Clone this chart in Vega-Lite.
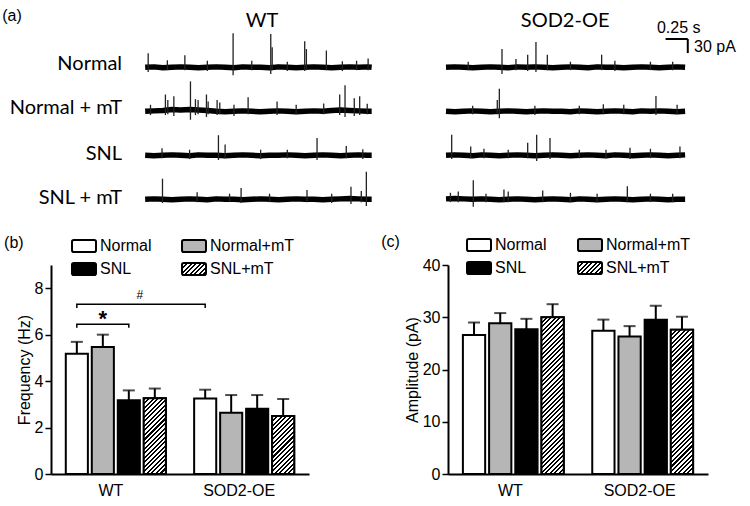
{
"$schema": "https://vega.github.io/schema/vega-lite/v6.json",
"background": "white",
"padding": {"left": 2, "top": 7, "right": 2, "bottom": 4},
"params": [{"name": "hs", "value": [
{"offset":0,"color":"black"},{"offset":0.0102,"color":"black"},{"offset":0.0102,"color":"white"},{"offset":0.0227,"color":"white"},
{"offset":0.0227,"color":"black"},{"offset":0.0330,"color":"black"},{"offset":0.0330,"color":"white"},{"offset":0.0455,"color":"white"},
{"offset":0.0455,"color":"black"},{"offset":0.0557,"color":"black"},{"offset":0.0557,"color":"white"},{"offset":0.0682,"color":"white"},
{"offset":0.0682,"color":"black"},{"offset":0.0784,"color":"black"},{"offset":0.0784,"color":"white"},{"offset":0.0909,"color":"white"},
{"offset":0.0909,"color":"black"},{"offset":0.1011,"color":"black"},{"offset":0.1011,"color":"white"},{"offset":0.1136,"color":"white"},
{"offset":0.1136,"color":"black"},{"offset":0.1239,"color":"black"},{"offset":0.1239,"color":"white"},{"offset":0.1364,"color":"white"},
{"offset":0.1364,"color":"black"},{"offset":0.1466,"color":"black"},{"offset":0.1466,"color":"white"},{"offset":0.1591,"color":"white"},
{"offset":0.1591,"color":"black"},{"offset":0.1693,"color":"black"},{"offset":0.1693,"color":"white"},{"offset":0.1818,"color":"white"},
{"offset":0.1818,"color":"black"},{"offset":0.1920,"color":"black"},{"offset":0.1920,"color":"white"},{"offset":0.2045,"color":"white"},
{"offset":0.2045,"color":"black"},{"offset":0.2148,"color":"black"},{"offset":0.2148,"color":"white"},{"offset":0.2273,"color":"white"},
{"offset":0.2273,"color":"black"},{"offset":0.2375,"color":"black"},{"offset":0.2375,"color":"white"},{"offset":0.2500,"color":"white"},
{"offset":0.2500,"color":"black"},{"offset":0.2602,"color":"black"},{"offset":0.2602,"color":"white"},{"offset":0.2727,"color":"white"},
{"offset":0.2727,"color":"black"},{"offset":0.2830,"color":"black"},{"offset":0.2830,"color":"white"},{"offset":0.2955,"color":"white"},
{"offset":0.2955,"color":"black"},{"offset":0.3057,"color":"black"},{"offset":0.3057,"color":"white"},{"offset":0.3182,"color":"white"},
{"offset":0.3182,"color":"black"},{"offset":0.3284,"color":"black"},{"offset":0.3284,"color":"white"},{"offset":0.3409,"color":"white"},
{"offset":0.3409,"color":"black"},{"offset":0.3511,"color":"black"},{"offset":0.3511,"color":"white"},{"offset":0.3636,"color":"white"},
{"offset":0.3636,"color":"black"},{"offset":0.3739,"color":"black"},{"offset":0.3739,"color":"white"},{"offset":0.3864,"color":"white"},
{"offset":0.3864,"color":"black"},{"offset":0.3966,"color":"black"},{"offset":0.3966,"color":"white"},{"offset":0.4091,"color":"white"},
{"offset":0.4091,"color":"black"},{"offset":0.4193,"color":"black"},{"offset":0.4193,"color":"white"},{"offset":0.4318,"color":"white"},
{"offset":0.4318,"color":"black"},{"offset":0.4420,"color":"black"},{"offset":0.4420,"color":"white"},{"offset":0.4545,"color":"white"},
{"offset":0.4545,"color":"black"},{"offset":0.4648,"color":"black"},{"offset":0.4648,"color":"white"},{"offset":0.4773,"color":"white"},
{"offset":0.4773,"color":"black"},{"offset":0.4875,"color":"black"},{"offset":0.4875,"color":"white"},{"offset":0.5000,"color":"white"},
{"offset":0.5000,"color":"black"},{"offset":0.5102,"color":"black"},{"offset":0.5102,"color":"white"},{"offset":0.5227,"color":"white"},
{"offset":0.5227,"color":"black"},{"offset":0.5330,"color":"black"},{"offset":0.5330,"color":"white"},{"offset":0.5455,"color":"white"},
{"offset":0.5455,"color":"black"},{"offset":0.5557,"color":"black"},{"offset":0.5557,"color":"white"},{"offset":0.5682,"color":"white"},
{"offset":0.5682,"color":"black"},{"offset":0.5784,"color":"black"},{"offset":0.5784,"color":"white"},{"offset":0.5909,"color":"white"},
{"offset":0.5909,"color":"black"},{"offset":0.6011,"color":"black"},{"offset":0.6011,"color":"white"},{"offset":0.6136,"color":"white"},
{"offset":0.6136,"color":"black"},{"offset":0.6239,"color":"black"},{"offset":0.6239,"color":"white"},{"offset":0.6364,"color":"white"},
{"offset":0.6364,"color":"black"},{"offset":0.6466,"color":"black"},{"offset":0.6466,"color":"white"},{"offset":0.6591,"color":"white"},
{"offset":0.6591,"color":"black"},{"offset":0.6693,"color":"black"},{"offset":0.6693,"color":"white"},{"offset":0.6818,"color":"white"},
{"offset":0.6818,"color":"black"},{"offset":0.6920,"color":"black"},{"offset":0.6920,"color":"white"},{"offset":0.7045,"color":"white"},
{"offset":0.7045,"color":"black"},{"offset":0.7148,"color":"black"},{"offset":0.7148,"color":"white"},{"offset":0.7273,"color":"white"},
{"offset":0.7273,"color":"black"},{"offset":0.7375,"color":"black"},{"offset":0.7375,"color":"white"},{"offset":0.7500,"color":"white"},
{"offset":0.7500,"color":"black"},{"offset":0.7602,"color":"black"},{"offset":0.7602,"color":"white"},{"offset":0.7727,"color":"white"},
{"offset":0.7727,"color":"black"},{"offset":0.7830,"color":"black"},{"offset":0.7830,"color":"white"},{"offset":0.7955,"color":"white"},
{"offset":0.7955,"color":"black"},{"offset":0.8057,"color":"black"},{"offset":0.8057,"color":"white"},{"offset":0.8182,"color":"white"},
{"offset":0.8182,"color":"black"},{"offset":0.8284,"color":"black"},{"offset":0.8284,"color":"white"},{"offset":0.8409,"color":"white"},
{"offset":0.8409,"color":"black"},{"offset":0.8511,"color":"black"},{"offset":0.8511,"color":"white"},{"offset":0.8636,"color":"white"},
{"offset":0.8636,"color":"black"},{"offset":0.8739,"color":"black"},{"offset":0.8739,"color":"white"},{"offset":0.8864,"color":"white"},
{"offset":0.8864,"color":"black"},{"offset":0.8966,"color":"black"},{"offset":0.8966,"color":"white"},{"offset":0.9091,"color":"white"},
{"offset":0.9091,"color":"black"},{"offset":0.9193,"color":"black"},{"offset":0.9193,"color":"white"},{"offset":0.9318,"color":"white"},
{"offset":0.9318,"color":"black"},{"offset":0.9420,"color":"black"},{"offset":0.9420,"color":"white"},{"offset":0.9545,"color":"white"},
{"offset":0.9545,"color":"black"},{"offset":0.9648,"color":"black"},{"offset":0.9648,"color":"white"},{"offset":0.9773,"color":"white"},
{"offset":0.9773,"color":"black"},{"offset":0.9875,"color":"black"},{"offset":0.9875,"color":"white"},{"offset":1,"color":"white"}
]}],
"datasets": {
"tr": [
{"g":"WT","c":"Normal","k":"b","t":0,"v":0},{"g":"WT","c":"Normal","k":"b","t":0.1,"v":1},{"g":"WT","c":"Normal","k":"b","t":0.2,"v":-1},{"g":"WT","c":"Normal","k":"b","t":0.3,"v":0},{"g":"WT","c":"Normal","k":"b","t":0.4,"v":1},{"g":"WT","c":"Normal","k":"b","t":0.5,"v":0},{"g":"WT","c":"Normal","k":"b","t":0.6,"v":-1},{"g":"WT","c":"Normal","k":"b","t":0.7,"v":0},{"g":"WT","c":"Normal","k":"b","t":0.8,"v":1},{"g":"WT","c":"Normal","k":"b","t":0.9,"v":0},{"g":"WT","c":"Normal","k":"b","t":1.0,"v":-1},{"g":"WT","c":"Normal","k":"b","t":1.1,"v":1},{"g":"WT","c":"Normal","k":"b","t":1.2,"v":0},{"g":"WT","c":"Normal","k":"b","t":1.3,"v":0},{"g":"WT","c":"Normal","k":"b","t":1.4,"v":-1},{"g":"WT","c":"Normal","k":"b","t":1.5,"v":1},{"g":"WT","c":"Normal","k":"b","t":1.6,"v":0},{"g":"WT","c":"Normal","k":"b","t":1.7,"v":-1},{"g":"WT","c":"Normal","k":"b","t":1.8,"v":0},{"g":"WT","c":"Normal","k":"b","t":1.9,"v":1},{"g":"WT","c":"Normal","k":"b","t":2.0,"v":0},{"g":"WT","c":"Normal","k":"b","t":2.1,"v":-1},{"g":"WT","c":"Normal","k":"b","t":2.2,"v":0},{"g":"WT","c":"Normal","k":"b","t":2.3,"v":1},{"g":"WT","c":"Normal","k":"b","t":2.4,"v":0},{"g":"WT","c":"Normal","k":"b","t":2.5,"v":1},{"g":"WT","c":"Normal","k":"b","t":2.55,"v":0},
{"g":"WT","c":"Normal + mT","k":"b","t":0,"v":0},{"g":"WT","c":"Normal + mT","k":"b","t":0.1,"v":1},{"g":"WT","c":"Normal + mT","k":"b","t":0.2,"v":2},{"g":"WT","c":"Normal + mT","k":"b","t":0.3,"v":4},{"g":"WT","c":"Normal + mT","k":"b","t":0.4,"v":3},{"g":"WT","c":"Normal + mT","k":"b","t":0.5,"v":4},{"g":"WT","c":"Normal + mT","k":"b","t":0.6,"v":3},{"g":"WT","c":"Normal + mT","k":"b","t":0.7,"v":2},{"g":"WT","c":"Normal + mT","k":"b","t":0.8,"v":0},{"g":"WT","c":"Normal + mT","k":"b","t":0.9,"v":-1},{"g":"WT","c":"Normal + mT","k":"b","t":1.0,"v":0},{"g":"WT","c":"Normal + mT","k":"b","t":1.1,"v":1},{"g":"WT","c":"Normal + mT","k":"b","t":1.2,"v":0},{"g":"WT","c":"Normal + mT","k":"b","t":1.3,"v":-1},{"g":"WT","c":"Normal + mT","k":"b","t":1.4,"v":0},{"g":"WT","c":"Normal + mT","k":"b","t":1.5,"v":1},{"g":"WT","c":"Normal + mT","k":"b","t":1.6,"v":0},{"g":"WT","c":"Normal + mT","k":"b","t":1.7,"v":-1},{"g":"WT","c":"Normal + mT","k":"b","t":1.8,"v":0},{"g":"WT","c":"Normal + mT","k":"b","t":1.9,"v":1},{"g":"WT","c":"Normal + mT","k":"b","t":2.0,"v":0},{"g":"WT","c":"Normal + mT","k":"b","t":2.1,"v":2},{"g":"WT","c":"Normal + mT","k":"b","t":2.2,"v":3},{"g":"WT","c":"Normal + mT","k":"b","t":2.3,"v":2},{"g":"WT","c":"Normal + mT","k":"b","t":2.4,"v":1},{"g":"WT","c":"Normal + mT","k":"b","t":2.5,"v":0},{"g":"WT","c":"Normal + mT","k":"b","t":2.55,"v":0},
{"g":"WT","c":"SNL","k":"b","t":0,"v":0},{"g":"WT","c":"SNL","k":"b","t":0.1,"v":-1},{"g":"WT","c":"SNL","k":"b","t":0.2,"v":0},{"g":"WT","c":"SNL","k":"b","t":0.3,"v":1},{"g":"WT","c":"SNL","k":"b","t":0.4,"v":0},{"g":"WT","c":"SNL","k":"b","t":0.5,"v":-1},{"g":"WT","c":"SNL","k":"b","t":0.6,"v":1},{"g":"WT","c":"SNL","k":"b","t":0.7,"v":0},{"g":"WT","c":"SNL","k":"b","t":0.8,"v":0},{"g":"WT","c":"SNL","k":"b","t":0.9,"v":-1},{"g":"WT","c":"SNL","k":"b","t":1.0,"v":0},{"g":"WT","c":"SNL","k":"b","t":1.1,"v":1},{"g":"WT","c":"SNL","k":"b","t":1.2,"v":0},{"g":"WT","c":"SNL","k":"b","t":1.3,"v":-1},{"g":"WT","c":"SNL","k":"b","t":1.4,"v":0},{"g":"WT","c":"SNL","k":"b","t":1.5,"v":0},{"g":"WT","c":"SNL","k":"b","t":1.6,"v":1},{"g":"WT","c":"SNL","k":"b","t":1.7,"v":0},{"g":"WT","c":"SNL","k":"b","t":1.8,"v":-1},{"g":"WT","c":"SNL","k":"b","t":1.9,"v":0},{"g":"WT","c":"SNL","k":"b","t":2.0,"v":1},{"g":"WT","c":"SNL","k":"b","t":2.1,"v":0},{"g":"WT","c":"SNL","k":"b","t":2.2,"v":-1},{"g":"WT","c":"SNL","k":"b","t":2.3,"v":0},{"g":"WT","c":"SNL","k":"b","t":2.4,"v":1},{"g":"WT","c":"SNL","k":"b","t":2.5,"v":0},{"g":"WT","c":"SNL","k":"b","t":2.55,"v":0},
{"g":"WT","c":"SNL + mT","k":"b","t":0,"v":0},{"g":"WT","c":"SNL + mT","k":"b","t":0.1,"v":1},{"g":"WT","c":"SNL + mT","k":"b","t":0.2,"v":0},{"g":"WT","c":"SNL + mT","k":"b","t":0.3,"v":-1},{"g":"WT","c":"SNL + mT","k":"b","t":0.4,"v":0},{"g":"WT","c":"SNL + mT","k":"b","t":0.5,"v":1},{"g":"WT","c":"SNL + mT","k":"b","t":0.6,"v":0},{"g":"WT","c":"SNL + mT","k":"b","t":0.7,"v":-1},{"g":"WT","c":"SNL + mT","k":"b","t":0.8,"v":1},{"g":"WT","c":"SNL + mT","k":"b","t":0.9,"v":0},{"g":"WT","c":"SNL + mT","k":"b","t":1.0,"v":0},{"g":"WT","c":"SNL + mT","k":"b","t":1.1,"v":-1},{"g":"WT","c":"SNL + mT","k":"b","t":1.2,"v":0},{"g":"WT","c":"SNL + mT","k":"b","t":1.3,"v":1},{"g":"WT","c":"SNL + mT","k":"b","t":1.4,"v":0},{"g":"WT","c":"SNL + mT","k":"b","t":1.5,"v":-1},{"g":"WT","c":"SNL + mT","k":"b","t":1.6,"v":0},{"g":"WT","c":"SNL + mT","k":"b","t":1.7,"v":1},{"g":"WT","c":"SNL + mT","k":"b","t":1.8,"v":0},{"g":"WT","c":"SNL + mT","k":"b","t":1.9,"v":0},{"g":"WT","c":"SNL + mT","k":"b","t":2.0,"v":-1},{"g":"WT","c":"SNL + mT","k":"b","t":2.1,"v":0},{"g":"WT","c":"SNL + mT","k":"b","t":2.2,"v":1},{"g":"WT","c":"SNL + mT","k":"b","t":2.3,"v":2},{"g":"WT","c":"SNL + mT","k":"b","t":2.4,"v":1},{"g":"WT","c":"SNL + mT","k":"b","t":2.5,"v":0},{"g":"WT","c":"SNL + mT","k":"b","t":2.55,"v":0},
{"g":"SOD2-OE","c":"Normal","k":"b","t":0,"v":0},{"g":"SOD2-OE","c":"Normal","k":"b","t":0.1,"v":1},{"g":"SOD2-OE","c":"Normal","k":"b","t":0.2,"v":0},{"g":"SOD2-OE","c":"Normal","k":"b","t":0.3,"v":-1},{"g":"SOD2-OE","c":"Normal","k":"b","t":0.4,"v":0},{"g":"SOD2-OE","c":"Normal","k":"b","t":0.5,"v":1},{"g":"SOD2-OE","c":"Normal","k":"b","t":0.6,"v":0},{"g":"SOD2-OE","c":"Normal","k":"b","t":0.7,"v":-1},{"g":"SOD2-OE","c":"Normal","k":"b","t":0.8,"v":1},{"g":"SOD2-OE","c":"Normal","k":"b","t":0.9,"v":0},{"g":"SOD2-OE","c":"Normal","k":"b","t":1.0,"v":1},{"g":"SOD2-OE","c":"Normal","k":"b","t":1.1,"v":0},{"g":"SOD2-OE","c":"Normal","k":"b","t":1.2,"v":-1},{"g":"SOD2-OE","c":"Normal","k":"b","t":1.3,"v":0},{"g":"SOD2-OE","c":"Normal","k":"b","t":1.4,"v":1},{"g":"SOD2-OE","c":"Normal","k":"b","t":1.5,"v":0},{"g":"SOD2-OE","c":"Normal","k":"b","t":1.6,"v":-1},{"g":"SOD2-OE","c":"Normal","k":"b","t":1.7,"v":1},{"g":"SOD2-OE","c":"Normal","k":"b","t":1.8,"v":0},{"g":"SOD2-OE","c":"Normal","k":"b","t":1.9,"v":0},{"g":"SOD2-OE","c":"Normal","k":"b","t":2.0,"v":-1},{"g":"SOD2-OE","c":"Normal","k":"b","t":2.1,"v":0},{"g":"SOD2-OE","c":"Normal","k":"b","t":2.2,"v":1},{"g":"SOD2-OE","c":"Normal","k":"b","t":2.3,"v":0},{"g":"SOD2-OE","c":"Normal","k":"b","t":2.4,"v":-1},{"g":"SOD2-OE","c":"Normal","k":"b","t":2.5,"v":0},{"g":"SOD2-OE","c":"Normal","k":"b","t":2.6,"v":1},{"g":"SOD2-OE","c":"Normal","k":"b","t":2.69,"v":0},
{"g":"SOD2-OE","c":"Normal + mT","k":"b","t":0,"v":0},{"g":"SOD2-OE","c":"Normal + mT","k":"b","t":0.1,"v":-1},{"g":"SOD2-OE","c":"Normal + mT","k":"b","t":0.2,"v":0},{"g":"SOD2-OE","c":"Normal + mT","k":"b","t":0.3,"v":1},{"g":"SOD2-OE","c":"Normal + mT","k":"b","t":0.4,"v":0},{"g":"SOD2-OE","c":"Normal + mT","k":"b","t":0.5,"v":-1},{"g":"SOD2-OE","c":"Normal + mT","k":"b","t":0.6,"v":0},{"g":"SOD2-OE","c":"Normal + mT","k":"b","t":0.7,"v":1},{"g":"SOD2-OE","c":"Normal + mT","k":"b","t":0.8,"v":0},{"g":"SOD2-OE","c":"Normal + mT","k":"b","t":0.9,"v":-1},{"g":"SOD2-OE","c":"Normal + mT","k":"b","t":1.0,"v":0},{"g":"SOD2-OE","c":"Normal + mT","k":"b","t":1.1,"v":1},{"g":"SOD2-OE","c":"Normal + mT","k":"b","t":1.2,"v":0},{"g":"SOD2-OE","c":"Normal + mT","k":"b","t":1.3,"v":0},{"g":"SOD2-OE","c":"Normal + mT","k":"b","t":1.4,"v":-1},{"g":"SOD2-OE","c":"Normal + mT","k":"b","t":1.5,"v":1},{"g":"SOD2-OE","c":"Normal + mT","k":"b","t":1.6,"v":0},{"g":"SOD2-OE","c":"Normal + mT","k":"b","t":1.7,"v":-1},{"g":"SOD2-OE","c":"Normal + mT","k":"b","t":1.8,"v":0},{"g":"SOD2-OE","c":"Normal + mT","k":"b","t":1.9,"v":1},{"g":"SOD2-OE","c":"Normal + mT","k":"b","t":2.0,"v":0},{"g":"SOD2-OE","c":"Normal + mT","k":"b","t":2.1,"v":-1},{"g":"SOD2-OE","c":"Normal + mT","k":"b","t":2.2,"v":1},{"g":"SOD2-OE","c":"Normal + mT","k":"b","t":2.3,"v":0},{"g":"SOD2-OE","c":"Normal + mT","k":"b","t":2.4,"v":1},{"g":"SOD2-OE","c":"Normal + mT","k":"b","t":2.5,"v":0},{"g":"SOD2-OE","c":"Normal + mT","k":"b","t":2.6,"v":-1},{"g":"SOD2-OE","c":"Normal + mT","k":"b","t":2.69,"v":0},
{"g":"SOD2-OE","c":"SNL","k":"b","t":0,"v":0},{"g":"SOD2-OE","c":"SNL","k":"b","t":0.1,"v":1},{"g":"SOD2-OE","c":"SNL","k":"b","t":0.2,"v":0},{"g":"SOD2-OE","c":"SNL","k":"b","t":0.3,"v":-1},{"g":"SOD2-OE","c":"SNL","k":"b","t":0.4,"v":1},{"g":"SOD2-OE","c":"SNL","k":"b","t":0.5,"v":0},{"g":"SOD2-OE","c":"SNL","k":"b","t":0.6,"v":-1},{"g":"SOD2-OE","c":"SNL","k":"b","t":0.7,"v":0},{"g":"SOD2-OE","c":"SNL","k":"b","t":0.8,"v":1},{"g":"SOD2-OE","c":"SNL","k":"b","t":0.9,"v":0},{"g":"SOD2-OE","c":"SNL","k":"b","t":1.0,"v":-1},{"g":"SOD2-OE","c":"SNL","k":"b","t":1.1,"v":0},{"g":"SOD2-OE","c":"SNL","k":"b","t":1.2,"v":1},{"g":"SOD2-OE","c":"SNL","k":"b","t":1.3,"v":0},{"g":"SOD2-OE","c":"SNL","k":"b","t":1.4,"v":-1},{"g":"SOD2-OE","c":"SNL","k":"b","t":1.5,"v":0},{"g":"SOD2-OE","c":"SNL","k":"b","t":1.6,"v":1},{"g":"SOD2-OE","c":"SNL","k":"b","t":1.7,"v":0},{"g":"SOD2-OE","c":"SNL","k":"b","t":1.8,"v":-1},{"g":"SOD2-OE","c":"SNL","k":"b","t":1.9,"v":1},{"g":"SOD2-OE","c":"SNL","k":"b","t":2.0,"v":0},{"g":"SOD2-OE","c":"SNL","k":"b","t":2.1,"v":-1},{"g":"SOD2-OE","c":"SNL","k":"b","t":2.2,"v":0},{"g":"SOD2-OE","c":"SNL","k":"b","t":2.3,"v":1},{"g":"SOD2-OE","c":"SNL","k":"b","t":2.4,"v":0},{"g":"SOD2-OE","c":"SNL","k":"b","t":2.5,"v":-1},{"g":"SOD2-OE","c":"SNL","k":"b","t":2.6,"v":0},{"g":"SOD2-OE","c":"SNL","k":"b","t":2.69,"v":1},
{"g":"SOD2-OE","c":"SNL + mT","k":"b","t":0,"v":1},{"g":"SOD2-OE","c":"SNL + mT","k":"b","t":0.1,"v":2},{"g":"SOD2-OE","c":"SNL + mT","k":"b","t":0.2,"v":1},{"g":"SOD2-OE","c":"SNL + mT","k":"b","t":0.3,"v":0},{"g":"SOD2-OE","c":"SNL + mT","k":"b","t":0.4,"v":1},{"g":"SOD2-OE","c":"SNL + mT","k":"b","t":0.5,"v":0},{"g":"SOD2-OE","c":"SNL + mT","k":"b","t":0.6,"v":-1},{"g":"SOD2-OE","c":"SNL + mT","k":"b","t":0.7,"v":0},{"g":"SOD2-OE","c":"SNL + mT","k":"b","t":0.8,"v":1},{"g":"SOD2-OE","c":"SNL + mT","k":"b","t":0.9,"v":0},{"g":"SOD2-OE","c":"SNL + mT","k":"b","t":1.0,"v":-1},{"g":"SOD2-OE","c":"SNL + mT","k":"b","t":1.1,"v":0},{"g":"SOD2-OE","c":"SNL + mT","k":"b","t":1.2,"v":1},{"g":"SOD2-OE","c":"SNL + mT","k":"b","t":1.3,"v":0},{"g":"SOD2-OE","c":"SNL + mT","k":"b","t":1.4,"v":-1},{"g":"SOD2-OE","c":"SNL + mT","k":"b","t":1.5,"v":1},{"g":"SOD2-OE","c":"SNL + mT","k":"b","t":1.6,"v":0},{"g":"SOD2-OE","c":"SNL + mT","k":"b","t":1.7,"v":-1},{"g":"SOD2-OE","c":"SNL + mT","k":"b","t":1.8,"v":0},{"g":"SOD2-OE","c":"SNL + mT","k":"b","t":1.9,"v":1},{"g":"SOD2-OE","c":"SNL + mT","k":"b","t":2.0,"v":0},{"g":"SOD2-OE","c":"SNL + mT","k":"b","t":2.1,"v":-1},{"g":"SOD2-OE","c":"SNL + mT","k":"b","t":2.2,"v":0},{"g":"SOD2-OE","c":"SNL + mT","k":"b","t":2.3,"v":1},{"g":"SOD2-OE","c":"SNL + mT","k":"b","t":2.4,"v":0},{"g":"SOD2-OE","c":"SNL + mT","k":"b","t":2.5,"v":-1},{"g":"SOD2-OE","c":"SNL + mT","k":"b","t":2.6,"v":0},{"g":"SOD2-OE","c":"SNL + mT","k":"b","t":2.69,"v":0},
{"g":"WT","c":"Normal","k":"s","t":0.034,"lo":-10,"hi":30},{"g":"WT","c":"Normal","k":"s","t":0.25,"lo":-6,"hi":15},{"g":"WT","c":"Normal","k":"s","t":0.447,"lo":-6,"hi":26},{"g":"WT","c":"Normal","k":"s","t":0.7,"lo":-8,"hi":14},{"g":"WT","c":"Normal","k":"s","t":0.99,"lo":-17,"hi":73},{"g":"WT","c":"Normal","k":"s","t":1.2,"lo":-6,"hi":14},{"g":"WT","c":"Normal","k":"s","t":1.414,"lo":-14,"hi":71},{"g":"WT","c":"Normal","k":"s","t":1.43,"lo":-6,"hi":43},{"g":"WT","c":"Normal","k":"s","t":1.6,"lo":-8,"hi":12},{"g":"WT","c":"Normal","k":"s","t":1.796,"lo":-8,"hi":56},{"g":"WT","c":"Normal","k":"s","t":1.815,"lo":-6,"hi":39},{"g":"WT","c":"Normal","k":"s","t":2.04,"lo":-6,"hi":36},{"g":"WT","c":"Normal","k":"s","t":2.22,"lo":-8,"hi":13},{"g":"WT","c":"Normal","k":"s","t":2.38,"lo":-6,"hi":14},{"g":"WT","c":"Normal","k":"s","t":2.51,"lo":-6,"hi":19},
{"g":"WT","c":"Normal + mT","k":"s","t":0.06,"lo":-8,"hi":14},{"g":"WT","c":"Normal + mT","k":"s","t":0.228,"lo":-8,"hi":36},{"g":"WT","c":"Normal + mT","k":"s","t":0.255,"lo":-6,"hi":24},{"g":"WT","c":"Normal + mT","k":"s","t":0.323,"lo":-10,"hi":32},{"g":"WT","c":"Normal + mT","k":"s","t":0.51,"lo":-18,"hi":64},{"g":"WT","c":"Normal + mT","k":"s","t":0.566,"lo":-8,"hi":26},{"g":"WT","c":"Normal + mT","k":"s","t":0.596,"lo":-6,"hi":24},{"g":"WT","c":"Normal + mT","k":"s","t":0.69,"lo":-12,"hi":36},{"g":"WT","c":"Normal + mT","k":"s","t":0.709,"lo":-6,"hi":21},{"g":"WT","c":"Normal + mT","k":"s","t":0.81,"lo":-8,"hi":24},{"g":"WT","c":"Normal + mT","k":"s","t":0.84,"lo":-6,"hi":19},{"g":"WT","c":"Normal + mT","k":"s","t":1.0,"lo":-10,"hi":14},{"g":"WT","c":"Normal + mT","k":"s","t":1.159,"lo":-6,"hi":30},{"g":"WT","c":"Normal + mT","k":"s","t":1.485,"lo":-8,"hi":21},{"g":"WT","c":"Normal + mT","k":"s","t":1.7,"lo":-6,"hi":14},{"g":"WT","c":"Normal + mT","k":"s","t":2.01,"lo":-6,"hi":17},{"g":"WT","c":"Normal + mT","k":"s","t":2.19,"lo":-8,"hi":36},{"g":"WT","c":"Normal + mT","k":"s","t":2.25,"lo":-12,"hi":56},{"g":"WT","c":"Normal + mT","k":"s","t":2.354,"lo":-10,"hi":28},{"g":"WT","c":"Normal + mT","k":"s","t":2.415,"lo":-8,"hi":32},{"g":"WT","c":"Normal + mT","k":"s","t":2.5,"lo":-6,"hi":16},
{"g":"WT","c":"SNL","k":"s","t":0.19,"lo":-6,"hi":15},{"g":"WT","c":"SNL","k":"s","t":0.5,"lo":-8,"hi":12},{"g":"WT","c":"SNL","k":"s","t":0.825,"lo":-10,"hi":43},{"g":"WT","c":"SNL","k":"s","t":0.9,"lo":-6,"hi":23},{"g":"WT","c":"SNL","k":"s","t":1.3,"lo":-8,"hi":12},{"g":"WT","c":"SNL","k":"s","t":1.6,"lo":-6,"hi":12},{"g":"WT","c":"SNL","k":"s","t":1.935,"lo":-10,"hi":37},{"g":"WT","c":"SNL","k":"s","t":2.264,"lo":-6,"hi":20},{"g":"WT","c":"SNL","k":"s","t":2.45,"lo":-8,"hi":13},
{"g":"WT","c":"SNL + mT","k":"s","t":0.195,"lo":-8,"hi":44},{"g":"WT","c":"SNL + mT","k":"s","t":0.585,"lo":-6,"hi":15},{"g":"WT","c":"SNL + mT","k":"s","t":0.95,"lo":-6,"hi":12},{"g":"WT","c":"SNL + mT","k":"s","t":1.08,"lo":-8,"hi":24},{"g":"WT","c":"SNL + mT","k":"s","t":1.4,"lo":-6,"hi":12},{"g":"WT","c":"SNL + mT","k":"s","t":1.822,"lo":-6,"hi":20},{"g":"WT","c":"SNL + mT","k":"s","t":2.1,"lo":-8,"hi":12},{"g":"WT","c":"SNL + mT","k":"s","t":2.317,"lo":-10,"hi":27},{"g":"WT","c":"SNL + mT","k":"s","t":2.433,"lo":-6,"hi":18},{"g":"WT","c":"SNL + mT","k":"s","t":2.49,"lo":-14,"hi":59},
{"g":"SOD2-OE","c":"Normal","k":"s","t":0.25,"lo":-6,"hi":12},{"g":"SOD2-OE","c":"Normal","k":"s","t":0.63,"lo":-14,"hi":39},{"g":"SOD2-OE","c":"Normal","k":"s","t":0.787,"lo":-6,"hi":18},{"g":"SOD2-OE","c":"Normal","k":"s","t":0.919,"lo":-8,"hi":27},{"g":"SOD2-OE","c":"Normal","k":"s","t":1.012,"lo":-10,"hi":54},{"g":"SOD2-OE","c":"Normal","k":"s","t":1.14,"lo":-6,"hi":27},{"g":"SOD2-OE","c":"Normal","k":"s","t":1.4,"lo":-6,"hi":12},{"g":"SOD2-OE","c":"Normal","k":"s","t":1.751,"lo":-6,"hi":27},{"g":"SOD2-OE","c":"Normal","k":"s","t":1.9,"lo":-8,"hi":14},{"g":"SOD2-OE","c":"Normal","k":"s","t":2.3,"lo":-6,"hi":12},{"g":"SOD2-OE","c":"Normal","k":"s","t":2.55,"lo":-6,"hi":12},
{"g":"SOD2-OE","c":"Normal + mT","k":"s","t":0.3,"lo":-6,"hi":12},{"g":"SOD2-OE","c":"Normal + mT","k":"s","t":0.577,"lo":-6,"hi":24},{"g":"SOD2-OE","c":"Normal + mT","k":"s","t":0.6,"lo":-15,"hi":48},{"g":"SOD2-OE","c":"Normal + mT","k":"s","t":1.0,"lo":-8,"hi":12},{"g":"SOD2-OE","c":"Normal + mT","k":"s","t":1.5,"lo":-6,"hi":12},{"g":"SOD2-OE","c":"Normal + mT","k":"s","t":1.77,"lo":-6,"hi":15},{"g":"SOD2-OE","c":"Normal + mT","k":"s","t":2.0,"lo":-6,"hi":14},{"g":"SOD2-OE","c":"Normal + mT","k":"s","t":2.362,"lo":-8,"hi":33},{"g":"SOD2-OE","c":"Normal + mT","k":"s","t":2.6,"lo":-6,"hi":14},
{"g":"SOD2-OE","c":"SNL","k":"s","t":0.064,"lo":-8,"hi":44},{"g":"SOD2-OE","c":"SNL","k":"s","t":0.278,"lo":-6,"hi":19},{"g":"SOD2-OE","c":"SNL","k":"s","t":0.427,"lo":-6,"hi":14},{"g":"SOD2-OE","c":"SNL","k":"s","t":0.7,"lo":-6,"hi":12},{"g":"SOD2-OE","c":"SNL","k":"s","t":0.919,"lo":-6,"hi":27},{"g":"SOD2-OE","c":"SNL","k":"s","t":1.02,"lo":-12,"hi":44},{"g":"SOD2-OE","c":"SNL","k":"s","t":1.17,"lo":-8,"hi":37},{"g":"SOD2-OE","c":"SNL","k":"s","t":1.5,"lo":-6,"hi":12},{"g":"SOD2-OE","c":"SNL","k":"s","t":1.8,"lo":-6,"hi":12},{"g":"SOD2-OE","c":"SNL","k":"s","t":2.07,"lo":-8,"hi":16},{"g":"SOD2-OE","c":"SNL","k":"s","t":2.3,"lo":-6,"hi":14},{"g":"SOD2-OE","c":"SNL","k":"s","t":2.632,"lo":-6,"hi":19},
{"g":"SOD2-OE","c":"SNL + mT","k":"s","t":0.05,"lo":-6,"hi":14},{"g":"SOD2-OE","c":"SNL + mT","k":"s","t":0.138,"lo":-6,"hi":17},{"g":"SOD2-OE","c":"SNL + mT","k":"s","t":0.307,"lo":-16,"hi":41},{"g":"SOD2-OE","c":"SNL + mT","k":"s","t":0.45,"lo":-6,"hi":12},{"g":"SOD2-OE","c":"SNL + mT","k":"s","t":0.652,"lo":-6,"hi":21},{"g":"SOD2-OE","c":"SNL + mT","k":"s","t":0.7,"lo":-6,"hi":17},{"g":"SOD2-OE","c":"SNL + mT","k":"s","t":1.088,"lo":-6,"hi":19},{"g":"SOD2-OE","c":"SNL + mT","k":"s","t":1.4,"lo":-6,"hi":14},{"g":"SOD2-OE","c":"SNL + mT","k":"s","t":1.7,"lo":-6,"hi":12},{"g":"SOD2-OE","c":"SNL + mT","k":"s","t":2.04,"lo":-6,"hi":28},{"g":"SOD2-OE","c":"SNL + mT","k":"s","t":2.3,"lo":-6,"hi":12},{"g":"SOD2-OE","c":"SNL + mT","k":"s","t":2.55,"lo":-6,"hi":12},
{"g":"SOD2-OE","c":"Normal","k":"sb","t":2.47,"t2":2.72,"lo":60.5,"hi":60.5},{"g":"SOD2-OE","c":"Normal","k":"sb","t":2.72,"t2":2.72,"lo":30.5,"hi":60.5},
{"g":"SOD2-OE","c":"Normal","k":"st","t":2.373,"v":84,"label":"0.25 s"},{"g":"SOD2-OE","c":"Normal","k":"st","t":2.79,"v":43.5,"label":"30 pA"},
{"g":"WT","c":"Normal","k":"lab","t":-0.26,"v":7,"label":"Normal"},{"g":"WT","c":"Normal + mT","k":"lab","t":-0.26,"v":7,"label":"Normal + mT"},{"g":"WT","c":"SNL","k":"lab","t":-0.26,"v":2,"label":"SNL"},{"g":"WT","c":"SNL + mT","k":"lab","t":-0.26,"v":3,"label":"SNL + mT"},
{"g":"WT","c":"Normal","k":"hd","t":1.316,"v":99,"label":"WT"},{"g":"SOD2-OE","c":"Normal","k":"hd","t":1.34,"v":99,"label":"SOD2-OE"},
{"g":"WT","c":"Normal","k":"pl","t":-1.609,"v":110,"label":"(a)"}
],
"fq": [
{"g":"WT","c":"Normal","v":5.18,"e":5.69},{"g":"WT","c":"Normal+mT","v":5.47,"e":6.0},{"g":"WT","c":"SNL","v":3.18,"e":3.6},{"g":"WT","c":"SNL+mT","v":3.26,"e":3.68},
{"g":"SOD2-OE","c":"Normal","v":3.25,"e":3.63},{"g":"SOD2-OE","c":"Normal+mT","v":2.64,"e":3.4},{"g":"SOD2-OE","c":"SNL","v":2.81,"e":3.4},{"g":"SOD2-OE","c":"SNL+mT","v":2.5,"e":3.23}
],
"am": [
{"g":"WT","c":"Normal","v":26.6,"e":29.0},{"g":"WT","c":"Normal+mT","v":28.85,"e":30.8},{"g":"WT","c":"SNL","v":27.7,"e":29.7},{"g":"WT","c":"SNL+mT","v":30.0,"e":32.5},
{"g":"SOD2-OE","c":"Normal","v":27.4,"e":29.55},{"g":"SOD2-OE","c":"Normal+mT","v":26.3,"e":28.3},{"g":"SOD2-OE","c":"SNL","v":29.5,"e":32.2},{"g":"SOD2-OE","c":"SNL+mT","v":27.6,"e":30.1}
],
"bk": [
{"id":"h","g":"WT","c":"Normal","y":7.15,"o":1},{"id":"h","g":"WT","c":"Normal","y":7.31,"o":2},{"id":"h","g":"SOD2-OE","c":"Normal","y":7.31,"o":3},{"id":"h","g":"SOD2-OE","c":"Normal","y":7.15,"o":4},
{"id":"s","g":"WT","c":"Normal","y":6.3,"o":1},{"id":"s","g":"WT","c":"Normal","y":6.45,"o":2},{"id":"s","g":"WT","c":"SNL","y":6.45,"o":3},{"id":"s","g":"WT","c":"SNL","y":6.3,"o":4}
],
"sg": [
{"g":"WT","c":"Normal+mT","y":6.36,"s":"*"},{"g":"WT","c":"SNL","y":7.52,"s":"#"}
]
},
"concat": [
{
"hconcat": [
{
"data": {"name": "tr"},
"transform": [{"filter": "datum.g == 'WT'"}],
"facet": {"row": {"field": "c", "type": "nominal", "sort": ["Normal", "Normal + mT", "SNL", "SNL + mT"], "header": {"title": null, "labels": false}}},
"bounds": "flush",
"spacing": 0,
"spec": {
"width": 334, "height": 44,
"layer": [
{"transform": [{"filter": "datum.k == 'b'"}], "mark": {"type": "line", "color": "black", "strokeWidth": 5.5, "strokeJoin": "round"},
 "encoding": {"x": {"field": "t", "type": "quantitative", "scale": {"domain": [-1.06, 2.7], "nice": false, "zero": false}, "axis": null}, "y": {"field": "v", "type": "quantitative", "scale": {"domain": [-42, 52], "nice": false, "zero": false}, "axis": null}}},
{"transform": [{"filter": "datum.k == 's'"}], "mark": {"type": "rule", "color": "#222", "strokeWidth": 1.3},
 "encoding": {"x": {"field": "t", "type": "quantitative"}, "y": {"field": "lo", "type": "quantitative"}, "y2": {"field": "hi"}}},
{"transform": [{"filter": "datum.k == 'pl'"}], "mark": {"type": "text", "align": "left", "baseline": "middle", "font": "Liberation Sans", "fontSize": 16, "color": "black"},
 "encoding": {"x": {"field": "t", "type": "quantitative"}, "y": {"field": "v", "type": "quantitative"}, "text": {"field": "label"}}},
{"transform": [{"filter": "datum.k == 'lab'"}], "mark": {"type": "text", "align": "right", "baseline": "middle", "font": "Lato", "fontSize": 20, "color": "black"},
 "encoding": {"x": {"field": "t", "type": "quantitative"}, "y": {"field": "v", "type": "quantitative"}, "text": {"field": "label"}}},
{"transform": [{"filter": "datum.k == 'hd'"}], "mark": {"type": "text", "align": "center", "baseline": "middle", "font": "Lato", "fontSize": 20, "color": "black"},
 "encoding": {"x": {"field": "t", "type": "quantitative"}, "y": {"field": "v", "type": "quantitative"}, "text": {"field": "label"}}}
]
}
},
{
"data": {"name": "tr"},
"transform": [{"filter": "datum.g == 'SOD2-OE'"}],
"facet": {"row": {"field": "c", "type": "nominal", "sort": ["Normal", "Normal + mT", "SNL", "SNL + mT"], "header": {"title": null, "labels": false}}},
"bounds": "flush",
"spacing": 0,
"spec": {
"width": 240, "height": 44,
"layer": [
{"transform": [{"filter": "datum.k == 'b'"}], "mark": {"type": "line", "color": "black", "strokeWidth": 5.5, "strokeJoin": "round"},
 "encoding": {"x": {"field": "t", "type": "quantitative", "scale": {"domain": [0, 2.7], "nice": false, "zero": false}, "axis": null}, "y": {"field": "v", "type": "quantitative", "scale": {"domain": [-42, 52], "nice": false, "zero": false}, "axis": null}}},
{"transform": [{"filter": "datum.k == 's'"}], "mark": {"type": "rule", "color": "#222", "strokeWidth": 1.3},
 "encoding": {"x": {"field": "t", "type": "quantitative"}, "y": {"field": "lo", "type": "quantitative"}, "y2": {"field": "hi"}}},
{"transform": [{"filter": "datum.k == 'sb'"}], "mark": {"type": "rule", "color": "black", "strokeWidth": 2},
 "encoding": {"x": {"field": "t", "type": "quantitative"}, "x2": {"field": "t2"}, "y": {"field": "lo", "type": "quantitative"}, "y2": {"field": "hi"}}},
{"transform": [{"filter": "datum.k == 'st'"}], "mark": {"type": "text", "align": "left", "baseline": "middle", "font": "Liberation Sans", "fontSize": 16, "color": "black"},
 "encoding": {"x": {"field": "t", "type": "quantitative"}, "y": {"field": "v", "type": "quantitative"}, "text": {"field": "label"}}},
{"transform": [{"filter": "datum.k == 'hd'"}], "mark": {"type": "text", "align": "center", "baseline": "middle", "font": "Lato", "fontSize": 20, "color": "black"},
 "encoding": {"x": {"field": "t", "type": "quantitative"}, "y": {"field": "v", "type": "quantitative"}, "text": {"field": "label"}}}
]
}
}
],
"spacing": 58,
"resolve": {"scale": {"x": "independent", "y": "independent"}}
},
{
"hconcat": [
{
"width": 258, "height": 209,
"title": {"text": "(b)", "anchor": "start", "dx": -12, "offset": -18, "font": "Liberation Sans", "fontSize": 16, "fontWeight": "normal", "color": "black"},
"layer": [
{"data": {"name": "fq"}, "mark": {"type": "rule", "color": "black", "strokeWidth": 2},
 "encoding": {
  "x": {"field": "g", "type": "nominal", "sort": ["WT", "SOD2-OE"], "title": null, "scale": {"paddingInner": 0.19, "paddingOuter": 0.1}, "axis": {"labelAngle": 0, "ticks": false, "labelPadding": 8, "labelOffset": -5}},
  "xOffset": {"field": "c", "type": "nominal", "scale": {"domain": ["Normal", "Normal+mT", "SNL", "SNL+mT"], "paddingInner": 0.15, "paddingOuter": 0.075}},
  "y": {"field": "v", "type": "quantitative", "title": "Frequency (Hz)", "scale": {"domain": [0, 9], "nice": false}, "axis": {"values": [0, 2, 4, 6, 8]}},
  "y2": {"field": "e"}}},
{"data": {"name": "fq"}, "mark": {"type": "tick", "color": "black", "size": 12, "thickness": 2},
 "encoding": {"x": {"field": "g", "type": "nominal", "sort": ["WT", "SOD2-OE"], "title": null}, "xOffset": {"field": "c", "type": "nominal"}, "y": {"field": "e", "type": "quantitative", "title": "Frequency (Hz)"}}},
{"data": {"name": "fq"}, "mark": {"type": "bar", "stroke": "black", "strokeWidth": 2},
 "encoding": {"x": {"field": "g", "type": "nominal", "sort": ["WT", "SOD2-OE"], "title": null}, "xOffset": {"field": "c", "type": "nominal"}, "y": {"field": "v", "type": "quantitative", "title": "Frequency (Hz)"},
  "fill": {"field": "c", "type": "nominal", "scale": {"domain": ["Normal", "SNL", "Normal+mT", "SNL+mT"], "range": ["white", "black", "#b6b6b6", {"expr": "{gradient:'linear',x1:0,y1:0,x2:6.667,y2:3.333,stops:hs}"}]},
   "legend": {"title": null, "orient": "none", "legendX": 20, "legendY": -32, "columns": 2, "columnPadding": 26, "rowPadding": -9, "padding": 0, "symbolType": "M-0.85,-0.5H0.85Q1,-0.5 1,-0.35V0.35Q1,0.5 0.85,0.5H-0.85Q-1,0.5 -1,0.35V-0.35Q-1,-0.5 -0.85,-0.5Z", "symbolSize": 576, "symbolStrokeColor": "black", "symbolStrokeWidth": 2, "symbolOpacity": 1, "labelFont": "Liberation Sans", "labelFontSize": 16, "labelColor": "black", "labelOffset": 3}}}},
{"data": {"name": "fq"}, "transform": [{"filter": "datum.g == 'WT' && datum.c == 'SNL+mT'"}], "mark": {"type": "bar", "stroke": "black", "strokeWidth": 2, "fill": {"expr": "{gradient:'linear',x1:0,y1:0,x2:0.711,y2:2.435,stops:hs}"}},
 "encoding": {"x": {"field": "g", "type": "nominal", "sort": ["WT", "SOD2-OE"], "title": null}, "xOffset": {"field": "c", "type": "nominal"}, "y": {"field": "v", "type": "quantitative", "title": "Frequency (Hz)"}}},
{"data": {"name": "fq"}, "transform": [{"filter": "datum.g == 'SOD2-OE' && datum.c == 'SNL+mT'"}], "mark": {"type": "bar", "stroke": "black", "strokeWidth": 2, "fill": {"expr": "{gradient:'linear',x1:0,y1:0,x2:1.144,y2:3.008,stops:hs}"}},
 "encoding": {"x": {"field": "g", "type": "nominal", "sort": ["WT", "SOD2-OE"], "title": null}, "xOffset": {"field": "c", "type": "nominal"}, "y": {"field": "v", "type": "quantitative", "title": "Frequency (Hz)"}}},
{"data": {"name": "bk"}, "mark": {"type": "line", "color": "black", "strokeWidth": 1.5},
 "encoding": {"x": {"field": "g", "type": "nominal", "sort": ["WT", "SOD2-OE"], "title": null}, "xOffset": {"field": "c", "type": "nominal"}, "y": {"field": "y", "type": "quantitative", "title": "Frequency (Hz)"}, "detail": {"field": "id"}, "order": {"field": "o", "type": "quantitative"}}},
{"data": {"name": "sg"}, "transform": [{"filter": "datum.s == '*'"}], "mark": {"type": "text", "font": "Liberation Sans", "fontSize": 22, "fontWeight": "bold", "baseline": "alphabetic", "color": "black"},
 "encoding": {"x": {"field": "g", "type": "nominal", "sort": ["WT", "SOD2-OE"], "title": null}, "xOffset": {"field": "c", "type": "nominal"}, "y": {"field": "y", "type": "quantitative", "title": "Frequency (Hz)"}, "text": {"field": "s"}}},
{"data": {"name": "sg"}, "transform": [{"filter": "datum.s == '#'"}], "mark": {"type": "text", "font": "Liberation Sans", "fontSize": 12, "baseline": "alphabetic", "dx": 11, "color": "black"},
 "encoding": {"x": {"field": "g", "type": "nominal", "sort": ["WT", "SOD2-OE"], "title": null}, "xOffset": {"field": "c", "type": "nominal"}, "y": {"field": "y", "type": "quantitative", "title": "Frequency (Hz)"}, "text": {"field": "s"}}}
]
},
{
"width": 260, "height": 209,
"title": {"text": "(c)", "anchor": "start", "dx": -23, "offset": -18, "font": "Liberation Sans", "fontSize": 16, "fontWeight": "normal", "color": "black"},
"layer": [
{"data": {"name": "am"}, "mark": {"type": "rule", "color": "black", "strokeWidth": 2},
 "encoding": {
  "x": {"field": "g", "type": "nominal", "sort": ["WT", "SOD2-OE"], "title": null, "scale": {"paddingInner": 0.19, "paddingOuter": 0.1}, "axis": {"labelAngle": 0, "ticks": false, "labelPadding": 8, "labelOffset": -3}},
  "xOffset": {"field": "c", "type": "nominal", "scale": {"domain": ["Normal", "Normal+mT", "SNL", "SNL+mT"], "paddingInner": 0.15, "paddingOuter": 0.075}},
  "y": {"field": "v", "type": "quantitative", "title": "Amplitude (pA)", "scale": {"domain": [0, 40], "nice": false}, "axis": {"values": [0, 10, 20, 30, 40]}},
  "y2": {"field": "e"}}},
{"data": {"name": "am"}, "mark": {"type": "tick", "color": "black", "size": 12, "thickness": 2},
 "encoding": {"x": {"field": "g", "type": "nominal", "sort": ["WT", "SOD2-OE"], "title": null}, "xOffset": {"field": "c", "type": "nominal"}, "y": {"field": "e", "type": "quantitative", "title": "Amplitude (pA)"}}},
{"data": {"name": "am"}, "mark": {"type": "bar", "stroke": "black", "strokeWidth": 2},
 "encoding": {"x": {"field": "g", "type": "nominal", "sort": ["WT", "SOD2-OE"], "title": null}, "xOffset": {"field": "c", "type": "nominal"}, "y": {"field": "v", "type": "quantitative", "title": "Amplitude (pA)"},
  "fill": {"field": "c", "type": "nominal", "scale": {"domain": ["Normal", "SNL", "Normal+mT", "SNL+mT"], "range": ["white", "black", "#b6b6b6", {"expr": "{gradient:'linear',x1:0,y1:0,x2:6.667,y2:3.333,stops:hs}"}]},
   "legend": {"title": null, "orient": "none", "legendX": 18, "legendY": -33, "columns": 2, "columnPadding": 27, "rowPadding": -9, "padding": 0, "symbolType": "M-0.85,-0.5H0.85Q1,-0.5 1,-0.35V0.35Q1,0.5 0.85,0.5H-0.85Q-1,0.5 -1,0.35V-0.35Q-1,-0.5 -0.85,-0.5Z", "symbolSize": 576, "symbolStrokeColor": "black", "symbolStrokeWidth": 2, "symbolOpacity": 1, "labelFont": "Liberation Sans", "labelFontSize": 16, "labelColor": "black", "labelOffset": 3}}}},
{"data": {"name": "am"}, "transform": [{"filter": "datum.g == 'WT' && datum.c == 'SNL+mT'"}], "mark": {"type": "bar", "stroke": "black", "strokeWidth": 2, "fill": {"expr": "{gradient:'linear',x1:0,y1:0,x2:0.1777,y2:1.251,stops:hs}"}},
 "encoding": {"x": {"field": "g", "type": "nominal", "sort": ["WT", "SOD2-OE"], "title": null}, "xOffset": {"field": "c", "type": "nominal"}, "y": {"field": "v", "type": "quantitative", "title": "Amplitude (pA)"}}},
{"data": {"name": "am"}, "transform": [{"filter": "datum.g == 'SOD2-OE' && datum.c == 'SNL+mT'"}], "mark": {"type": "bar", "stroke": "black", "strokeWidth": 2, "fill": {"expr": "{gradient:'linear',x1:0,y1:0,x2:0.2092,y2:1.3546,stops:hs}"}},
 "encoding": {"x": {"field": "g", "type": "nominal", "sort": ["WT", "SOD2-OE"], "title": null}, "xOffset": {"field": "c", "type": "nominal"}, "y": {"field": "v", "type": "quantitative", "title": "Amplitude (pA)"}}}
]
}
],
"spacing": 72,
"resolve": {"scale": {"x": "independent", "y": "independent", "xOffset": "independent", "fill": "independent"}, "legend": {"fill": "independent"}}
}
],
"columns": 1,
"spacing": 13,
"resolve": {"scale": {"x": "independent", "y": "independent", "xOffset": "independent", "fill": "independent"}},
"config": {
"view": {"stroke": null},
"font": "Liberation Sans",
"axis": {"domainColor": "black", "domainWidth": 2, "tickColor": "black", "tickWidth": 1.5, "tickSize": 6, "labelFont": "Liberation Sans", "labelFontSize": 16, "labelColor": "black", "labelPadding": 2, "titleFont": "Liberation Sans", "titleFontSize": 16, "titleFontWeight": "normal", "titleColor": "black", "titlePadding": 2, "grid": false}
}
}
